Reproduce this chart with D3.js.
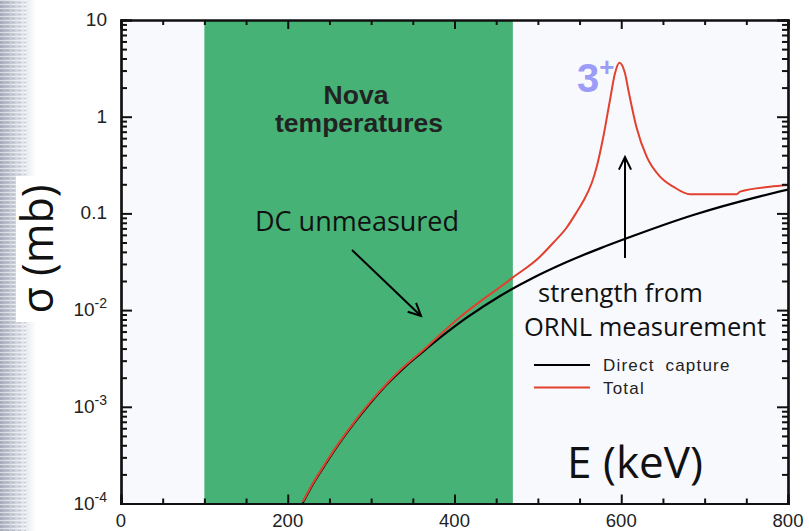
<!DOCTYPE html>
<html><head><meta charset="utf-8">
<script src="https://cdn.jsdelivr.net/npm/d3@7"></script>
<style>body{margin:0;background:#fff}svg{display:block}</style>
</head><body>
<svg id="c" width="809" height="531"></svg>
<script>
// ---- data ----
const dcE   = [218, 230.6, 246.7, 262.7, 278.6, 298.7, 318.7, 338.6, 358.6, 414.6, 454.6, 494.5, 534.6, 574.5, 606.5, 686.4, 766.4, 800];
const dcSig = [1.02e-4, 1.61e-4, 2.67e-4, 4.30e-4, 6.61e-4, 1.087e-3, 1.70e-3, 2.50e-3, 3.51e-3, 8.34e-3, 0.0140, 0.0216, 0.0314, 0.0435, 0.0553, 0.0963, 0.150, 0.176];
const totE   = [218, 230.6, 246.7, 262.7, 278.6, 298.7, 318.7, 338.6, 358.6, 404.6, 468.6, 502.5, 518.2, 534.6, 546.6, 554.5, 564.6, 570.6, 578.5, 586.5, 592.5, 597.7, 604.5, 608.5, 618.5, 630.5, 646.5, 662.4, 682.5, 738.5, 742.5, 778.4, 800];
const totSig = [1.04e-4, 1.64e-4, 2.73e-4, 4.39e-4, 6.75e-4, 1.11e-3, 1.73e-3, 2.56e-3, 3.6e-3, 8.2e-3, 0.0213, 0.0357, 0.0494, 0.0715, 0.1034, 0.1343, 0.2062, 0.304, 0.621, 1.49, 2.81, 3.62, 2.81, 1.89, 0.764, 0.386, 0.240, 0.189, 0.158, 0.158, 0.168, 0.189, 0.197];
const novaRange = [100, 470];
const xMajor = [0, 200, 400, 600, 800];
const xMinor = [50, 100, 150, 250, 300, 350, 450, 500, 550, 650, 700, 750];
const yDecades = [1e-4, 1e-3, 1e-2, 0.1, 1, 10];
const yLabels = [["10","-4"],["10","-3"],["10","-2"],["0.1",""],["1",""],["10",""]];
const legendNames = ["Direct capture", "Total"];

// ---- layout ----
const svg = d3.select("#c");
const L = 121, R = 788, T = 20, B = 503.5;
const x = d3.scaleLinear().domain([0, 800]).range([L, R]);
const y = d3.scaleLog().domain([1e-4, 10]).range([B, T]);
const GREEN = "#46b276", RED = "#e2412f", INK = "#111";

const defs = svg.append("defs");
const lg = defs.append("linearGradient").attr("id","tex").attr("x1",0).attr("x2",1).attr("y1",0).attr("y2",0);
lg.append("stop").attr("offset","0%").attr("stop-color","#a9aebd");
lg.append("stop").attr("offset","45%").attr("stop-color","#d3d6e0");
lg.append("stop").attr("offset","100%").attr("stop-color","#ffffff");
const pat = defs.append("pattern").attr("id","lines").attr("width",6).attr("height",4).attr("patternUnits","userSpaceOnUse");
pat.append("rect").attr("width",6).attr("height",1).attr("fill","#ffffff").attr("opacity",0.5);
pat.append("rect").attr("y",2).attr("width",3).attr("height",1).attr("fill","#8f94a3").attr("opacity",0.35);
svg.append("rect").attr("x",0).attr("y",0).attr("width",36).attr("height",531).attr("fill","url(#tex)");
svg.append("rect").attr("x",0).attr("y",0).attr("width",26).attr("height",531).attr("fill","url(#lines)");

// plot background
svg.append("rect").attr("x",L).attr("y",T).attr("width",R-L).attr("height",B-T).attr("fill","#f8f9fd");
svg.append("rect").attr("x",x(novaRange[0])).attr("y",T).attr("width",x(novaRange[1])-x(novaRange[0])).attr("height",B-T).attr("fill",GREEN);

// curves
defs.append("clipPath").attr("id","clip").append("rect").attr("x",L).attr("y",T).attr("width",R-L).attr("height",B-T);
const line = d3.line().x(d=>x(d[0])).y(d=>y(d[1])).curve(d3.curveMonotoneX);
const g = svg.append("g").attr("clip-path","url(#clip)");
g.append("path").datum(dcE.map((e,i)=>[e,dcSig[i]])).attr("d",line).attr("fill","none").attr("stroke","#000").attr("stroke-width",2.2);
g.append("path").datum(totE.map((e,i)=>[e,totSig[i]])).attr("d",line).attr("fill","none").attr("stroke",RED).attr("stroke-width",2);

// axes (ticks inward)
const minorY = [];
for (let k=-4;k<1;k++) for (let m=2;m<=9;m++) minorY.push(m*Math.pow(10,k));
function axisG(){ return svg.append("g"); }
const ax = [];
ax.push(axisG().attr("transform",`translate(0,${B})`).call(d3.axisBottom(x).tickValues(xMajor).tickSize(-9).tickFormat("")));
ax.push(axisG().attr("transform",`translate(0,${B})`).call(d3.axisBottom(x).tickValues(xMinor).tickSize(-5).tickFormat("")));
ax.push(axisG().attr("transform",`translate(0,${T})`).call(d3.axisTop(x).tickValues(xMajor).tickSize(-9).tickFormat("")));
ax.push(axisG().attr("transform",`translate(0,${T})`).call(d3.axisTop(x).tickValues(xMinor).tickSize(-5).tickFormat("")));
ax.push(axisG().attr("transform",`translate(${L},0)`).call(d3.axisLeft(y).tickValues(yDecades).tickSize(-11).tickFormat("")));
ax.push(axisG().attr("transform",`translate(${L},0)`).call(d3.axisLeft(y).tickValues(minorY).tickSize(-6).tickFormat("")));
ax.push(axisG().attr("transform",`translate(${R},0)`).call(d3.axisRight(y).tickValues(yDecades).tickSize(-11).tickFormat("")));
ax.push(axisG().attr("transform",`translate(${R},0)`).call(d3.axisRight(y).tickValues(minorY).tickSize(-6).tickFormat("")));
ax.forEach(a=>{ a.selectAll(".domain").attr("stroke",INK).attr("stroke-width",2.2); a.selectAll(".tick line").attr("stroke",INK).attr("stroke-width",2); });

// x tick labels
svg.append("g").selectAll("text").data(xMajor).join("text")
  .attr("x",d=>x(d)).attr("y",527).attr("text-anchor","middle")
  .attr("font-family","Liberation Sans, Arial, sans-serif").attr("font-size",18.5).attr("fill","#222")
  .text(d=>d);
// y tick labels
const yl = svg.append("g").selectAll("text").data(yDecades).join("text")
  .attr("x",107).attr("y",d=>y(d)+6).attr("text-anchor","end")
  .attr("font-family","Liberation Sans, Arial, sans-serif").attr("font-size",19).attr("fill","#222");
yl.each(function(d,i){
  const t = d3.select(this);
  t.append("tspan").text(yLabels[i][0]);
  if (yLabels[i][1]) t.append("tspan").attr("dy",-8).attr("font-size",14).text(yLabels[i][1]);
});

// y axis title with white box
svg.append("rect").attr("x",16).attr("y",176).attr("width",44).attr("height",146).attr("fill","#fff");
svg.append("text").attr("transform","translate(53,249) rotate(-90)").attr("text-anchor","middle")
  .attr("font-family","Open Sans, sans-serif").attr("font-size",43).attr("fill","#111").text("σ (mb)");

// x axis title
svg.append("text").attr("x",635).attr("y",478).attr("text-anchor","middle")
  .attr("font-family","Open Sans, sans-serif").attr("font-size",44).attr("fill","#111").text("E (keV)");

// Nova temperatures
svg.append("text").attr("x",356).attr("y",104).attr("text-anchor","middle")
  .attr("font-family","Liberation Sans, Arial, sans-serif").attr("font-weight","bold").attr("font-size",26.5).attr("fill","#222").text("Nova");
svg.append("text").attr("x",359).attr("y",132).attr("text-anchor","middle")
  .attr("font-family","Liberation Sans, Arial, sans-serif").attr("font-weight","bold").attr("font-size",26.5).attr("fill","#222").text("temperatures");

// DC unmeasured + arrow
svg.append("text").attr("x",255).attr("y",231).attr("font-family","Open Sans, sans-serif").attr("font-size",27).attr("fill","#111").text("DC unmeasured");
function arrow(x1,y1,x2,y2){
  svg.append("line").attr("x1",x1).attr("y1",y1).attr("x2",x2).attr("y2",y2).attr("stroke","#000").attr("stroke-width",2);
  const a = Math.atan2(y2-y1,x2-x1), h=14, w=0.45;
  svg.append("path").attr("d",`M${x2-h*Math.cos(a-w)},${y2-h*Math.sin(a-w)}L${x2},${y2}L${x2-h*Math.cos(a+w)},${y2-h*Math.sin(a+w)}`)
    .attr("fill","none").attr("stroke","#000").attr("stroke-width",2);
}
arrow(352,250,421,316);
arrow(625,258,625,157);

// strength text
svg.append("text").attr("x",538).attr("y",302).attr("font-family","Open Sans, sans-serif").attr("font-size",25.5).attr("fill","#111").text("strength from");
svg.append("text").attr("x",524).attr("y",336).attr("font-family","Open Sans, sans-serif").attr("font-size",25.5).attr("fill","#111").text("ORNL measurement");

// 3+
const t3 = svg.append("text").attr("x",577).attr("y",92).attr("font-family","Liberation Sans, Arial, sans-serif").attr("font-weight","bold").attr("font-size",40).attr("fill","#9b9cf7");
t3.append("tspan").text("3");
t3.append("tspan").attr("dy",-16).attr("font-size",26).text("+");

// legend
const lgd = svg.append("g").selectAll("g").data(legendNames).join("g").attr("transform",(d,i)=>`translate(0,${365+i*22.5})`);
lgd.append("line").attr("x1",534).attr("x2",590).attr("stroke",(d,i)=>i?RED:"#000").attr("stroke-width",2);
lgd.append("text").attr("x",603).attr("y",6).attr("font-family","Liberation Sans, Arial, sans-serif").attr("font-size",17).attr("letter-spacing",1.2).attr("word-spacing",5).attr("fill","#222").text(d=>d);
</script>
</body></html>
